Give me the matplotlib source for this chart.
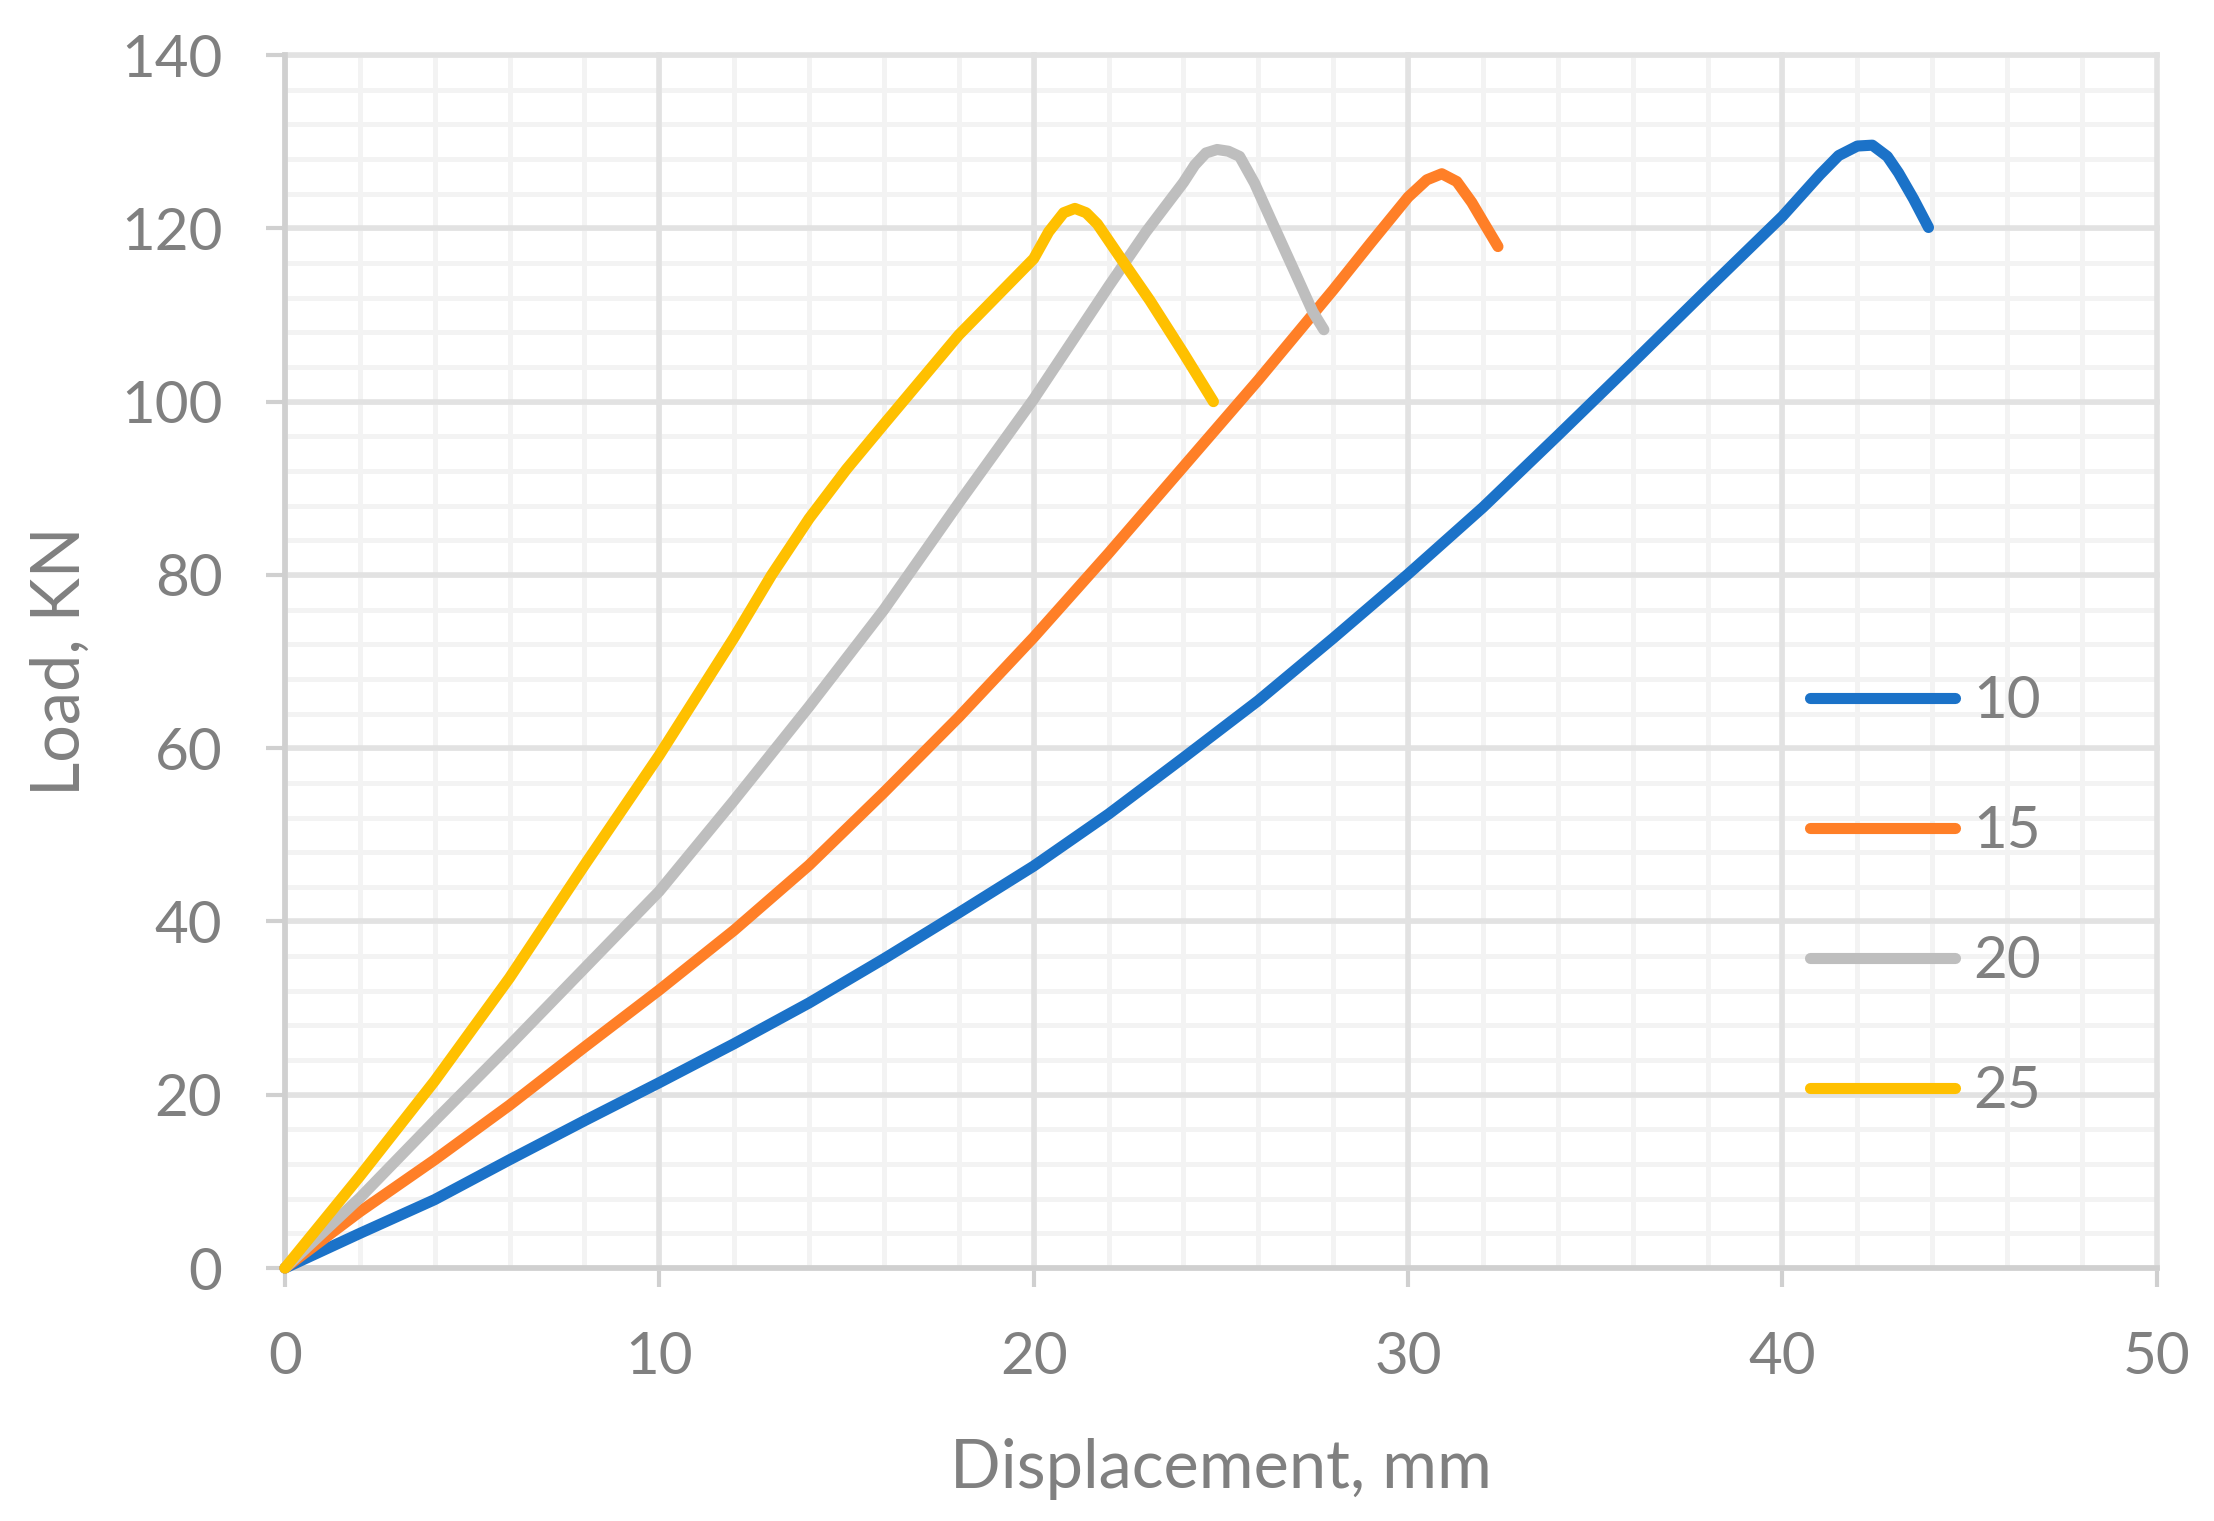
import numpy as np
import matplotlib
matplotlib.use("Agg")
import matplotlib.pyplot as plt

plt.rcParams['font.family'] = ['Lato', 'DejaVu Sans']

# load-displacement curves
x10 = [0, 2, 4, 6, 8, 10, 12, 14, 16, 18, 20, 22, 24, 26, 28, 30, 32, 34, 36, 38, 40,
       40.5, 41.0, 41.5, 42.0, 42.4, 42.8, 43.1, 43.5, 43.9]
y10 = [0, 4.0, 7.9, 12.5, 17.0, 21.4, 25.9, 30.6, 35.7, 41.0, 46.4, 52.4, 58.9, 65.5, 72.7, 80.1, 87.8, 96.1, 104.5, 113.0, 121.4,
       123.8, 126.2, 128.4, 129.5, 129.6, 128.3, 126.4, 123.4, 120.1]

x15 = [0, 2, 4, 6, 8, 10, 12, 14, 16, 18, 20, 22, 24, 26, 28, 29, 30, 30.5, 30.9, 31.3, 31.7, 32.0, 32.4]
y15 = [0, 6.5, 12.5, 18.8, 25.5, 32.1, 39.0, 46.5, 54.9, 63.6, 72.8, 82.5, 92.5, 102.5, 112.9, 118.3, 123.6, 125.6, 126.3, 125.4, 123.0, 120.8, 117.9]

x20 = [0, 2, 4, 6, 8, 10, 12, 14, 16, 18, 20, 22, 23, 24, 24.3, 24.6, 24.9, 25.2, 25.5, 25.9, 26.4, 27.0, 27.45, 27.75]
y20 = [0, 8.1, 17.0, 25.7, 34.6, 43.5, 54.0, 64.8, 76.0, 88.3, 100.3, 113.3, 119.6, 125.3, 127.3, 128.7, 129.1, 128.9, 128.3, 125.2, 120.4, 114.7, 110.4, 108.3]

x25 = [0, 2, 4, 6, 8, 10, 12, 13, 14, 15, 16, 18, 20, 20.4, 20.8, 21.1, 21.4, 21.7, 22.3, 23.1, 24.0, 24.8]
y25 = [0, 10.6, 21.6, 33.5, 46.5, 59.2, 72.8, 80.0, 86.5, 92.2, 97.4, 107.7, 116.5, 119.6, 121.8, 122.3, 121.8, 120.5, 116.7, 111.7, 105.6, 100.0]

series = [
    ("10", x10, y10, "#1b72c8"),
    ("15", x15, y15, "#ff7f27"),
    ("20", x20, y20, "#bebebe"),
    ("25", x25, y25, "#ffc000"),
]

xticks = np.arange(0, 51, 10)
yticks = np.arange(0, 141, 20)

txt = "#808080"

fig = plt.figure(figsize=(22.14, 15.21), dpi=100)
ax = fig.add_axes([0.1287, 0.1663, 0.8455, 0.7975])

# light minor grid underneath, major grid on top of it
ax.vlines(np.arange(0, 51, 2), 0, 140, color="#f3f3f3", lw=3.5, zorder=0.3)
ax.hlines(np.arange(0, 141, 4), 0, 50, color="#f3f3f3", lw=3.5, zorder=0.3)
ax.set_axisbelow(True)
ax.grid(which="major", color="#e2e2e2", lw=4)

for name, xs, ys, c in series:
    ax.plot(xs, ys, color=c, lw=8, label=name, solid_capstyle="round",
            solid_joinstyle="round", clip_on=False, zorder=3)

ax.set_xlim(0, 50)
ax.set_ylim(0, 140)
ax.set_xticks(xticks)
ax.set_yticks(yticks)

for t in ax.xaxis.get_major_ticks() + ax.yaxis.get_major_ticks():
    t.gridline.set_clip_on(False)

ax.tick_params(axis="both", which="major", direction="out", length=14, width=3,
               color="#d0d0d0", labelsize=42, labelcolor=txt, pad=31)

for s in ["top", "right"]:
    ax.spines[s].set_visible(False)
for s in ["left", "bottom"]:
    ax.spines[s].set_color("#d0d0d0")
    ax.spines[s].set_linewidth(4)

ax.set_xlabel("Displacement, mm", fontsize=48, color=txt, va="baseline")
ax.xaxis.set_label_coords(0.5, -0.1814)
ax.set_ylabel("Load, KN", fontsize=48, color=txt, va="baseline")
ax.yaxis.set_label_coords(-0.1095, 0.5)

ax.legend(loc="center left", bbox_to_anchor=(0.8173, 0.4103), bbox_transform=fig.transFigure,
          frameon=False, fontsize=42, handlelength=2.5, handletextpad=0.3,
          labelspacing=1.32, borderpad=0, borderaxespad=0, labelcolor=txt)

plt.savefig("out.png", dpi=100)
